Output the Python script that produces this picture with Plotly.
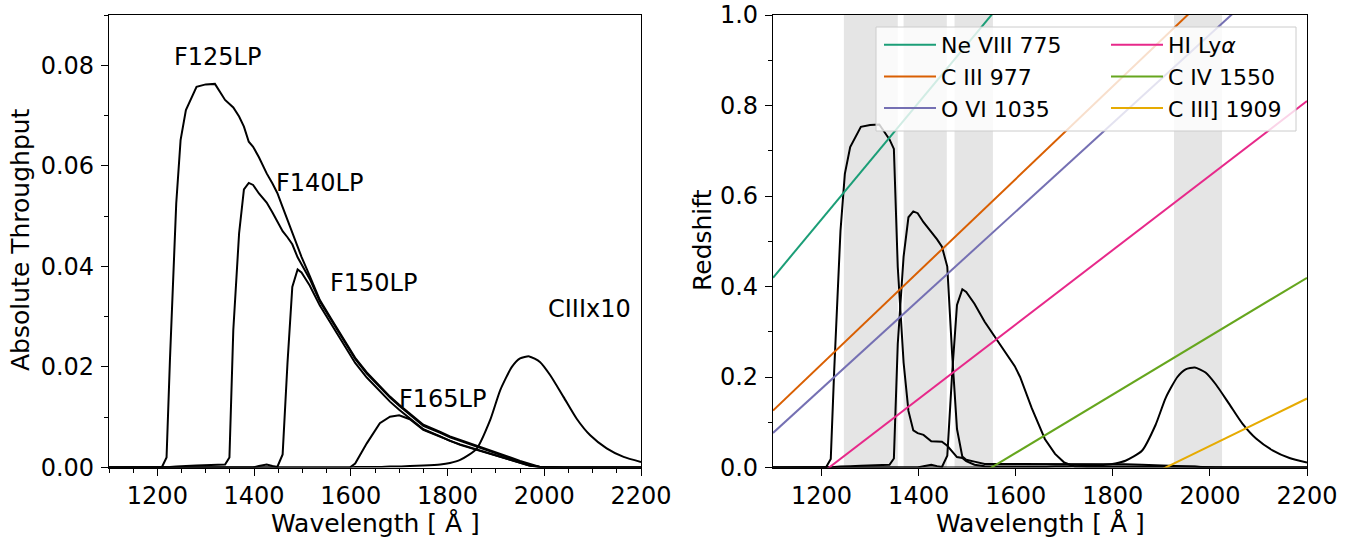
import numpy as np
import plotly.graph_objects as go

# ---------------- data ----------------
wave = [1100, 1200, 1209, 1219, 1226, 1239, 1248, 1259, 1281, 1300, 1319, 1340, 1349, 1357,
        1369, 1379, 1389, 1398, 1410, 1426, 1438, 1448, 1459, 1469, 1479, 1490, 1498, 1515,
        1536, 1560, 1598, 1609, 1633, 1660, 1681, 1700, 1722, 1750, 1785, 1805, 1826, 1860,
        1888, 1909, 1933, 1950, 1969, 1991, 2012, 2040, 2067, 2095, 2129, 2164, 2200]

f125lp = [0, 0, 0, 0.0020, 0.0214, 0.0525, 0.0651, 0.0711, 0.0757, 0.0762, 0.0763, 0.0731, 0.0724, 0.0716,
          0.0698, 0.0678, 0.0648, 0.0638, 0.0617, 0.0585, 0.0565, 0.0546, 0.0518, 0.0493, 0.0467, 0.0439, 0.0419, 0.0381,
          0.0333, 0.0295, 0.0234, 0.0218, 0.0189, 0.0161, 0.0141, 0.0125, 0.0108, 0.0085, 0.0071, 0.0062, 0.0055, 0.0044,
          0.0034, 0.0027, 0.0019, 0.0013, 0.0007, 0.0001, 0, 0, 0, 0, 0, 0, 0]

f140lp = [0, 0, 0, 0.0001, 0.0001, 0.0002, 0.0002, 0.0003, 0.0004, 0.0005, 0.0005, 0.0006, 0.0020, 0.0273,
          0.0466, 0.0553, 0.0566, 0.0562, 0.0545, 0.0527, 0.0507, 0.0489, 0.0470, 0.0458, 0.0444, 0.0418, 0.0405, 0.0375,
          0.0330, 0.0293, 0.0232, 0.0216, 0.0187, 0.0159, 0.0139, 0.0123, 0.0106, 0.0083, 0.0069, 0.0060, 0.0053, 0.0042,
          0.0032, 0.0025, 0.0017, 0.0011, 0.0005, 0.0001, 0, 0, 0, 0, 0, 0, 0]

f150lp = [0, 0, 0, 0, 0, 0, 0, 0, 0, 0, 0, 0, 0, 0,
          0, 0, 0, 0, 0.0003, 0.0006, 0.0003, 0.0001, 0.0026, 0.0207, 0.0359, 0.0394, 0.0388, 0.0362,
          0.0322, 0.0285, 0.0224, 0.0208, 0.0179, 0.0151, 0.0131, 0.0115, 0.0098, 0.0076, 0.0062, 0.0053, 0.0046, 0.0036,
          0.0027, 0.0021, 0.0014, 0.0009, 0.0004, 0.0001, 0, 0, 0, 0, 0, 0, 0]

f165lp = [0, 0, 0, 0, 0, 0, 0, 0, 0, 0, 0, 0, 0, 0,
          0, 0, 0, 0, 0, 0, 0, 0, 0, 0, 0, 0, 0, 0,
          0, 0, 0, 0.0008, 0.0048, 0.0088, 0.0101, 0.0104, 0.0096, 0.0075, 0.0061, 0.0052, 0.0045, 0.0035,
          0.0027, 0.0020, 0.0013, 0.0008, 0.0004, 0.0001, 0, 0, 0, 0, 0, 0, 0]

ciii_x10 = [0, 0, 0, 0, 0, 0, 0, 0, 0, 0, 0, 0, 0, 0,
            0, 0, 0, 0, 0, 0, 0, 0, 0, 0, 0, 0, 0, 0,
            0, 0, 0, 0.0001, 0.0001, 0.0001, 0.0002, 0.0002, 0.0003, 0.0004, 0.0006, 0.0009, 0.0015, 0.0037,
            0.0094, 0.0154, 0.0200, 0.0217, 0.0221, 0.0210, 0.0184, 0.0140, 0.0097, 0.0064, 0.0038, 0.0021, 0.0011]

filter_labels = ["F125LP", "F140LP", "F150LP", "F165LP", "CIIIx10"]

line_names = ["Ne VIII 775", "C III 977", "O VI 1035", "HI Ly<i>α</i>", "C IV 1550", "C III] 1909"]
rest_wave = [775, 977, 1022, 1215.67, 1550, 1909]
line_colors = ["#1b9e77", "#d95f02", "#7570b3", "#e7298a", "#66a61e", "#e6ab02"]

band_lo = [1246, 1369, 1474, 1926]
band_hi = [1357, 1458, 1553, 2025]

x_ticks = [1200, 1400, 1600, 1800, 2000, 2200]
y1_ticks = [0.00, 0.02, 0.04, 0.06, 0.08]
y2_ticks = [0.0, 0.2, 0.4, 0.6, 0.8, 1.0]

# ---------------- figure ----------------
W, H = 1363, 537
FONT = "DejaVu Sans"

def fx(p):
    return p / W

def fy(p):
    return 1 - p / H

fig = go.Figure()

wv = np.array(wave, dtype=float)
curves = [np.array(c) for c in (f125lp, f140lp, f150lp, f165lp, ciii_x10)]

# left panel: throughput curves
for name, c in zip(filter_labels, curves):
    fig.add_trace(go.Scatter(
        x=wv, y=c, mode="lines", name=name, showlegend=False,
        line=dict(color="black", width=2,
                  shape="spline" if name == "CIIIx10" else "linear", smoothing=0.6),
        xaxis="x", yaxis="y"))

# right panel: band differences (x10)
right_curves = [
    (curves[0] - curves[1]) * 10,
    (curves[1] - curves[2]) * 10,
    (curves[2] - curves[3]) * 10,
    curves[4] * 10,
]
for i, c in enumerate(right_curves):
    fig.add_trace(go.Scatter(
        x=wv, y=c, mode="lines", showlegend=False,
        line=dict(color="black", width=2,
                  shape="spline" if i == 3 else "linear", smoothing=0.6),
        xaxis="x2", yaxis="y2"))

# redshift lines
lam = np.array([wave[0], wave[-1]], dtype=float)
for i, (nm, rw, col) in enumerate(zip(line_names, rest_wave, line_colors)):
    fig.add_trace(go.Scatter(
        x=lam, y=lam / rw - 1, mode="lines", name=nm,
        line=dict(color=col, width=2),
        xaxis="x2", yaxis="y2",
        legend="legend" if i < 3 else "legend2"))

# shaded bands
for lo, hi in zip(band_lo, band_hi):
    fig.add_shape(type="rect", xref="x2", yref="y2 domain", x0=lo, x1=hi, y0=0, y1=1,
                  fillcolor="#e5e5e5", line=dict(width=0), layer="below")

# legend background box
fig.add_shape(type="rect", xref="paper", yref="paper",
              x0=fx(876), x1=fx(1296), y0=fy(131), y1=fy(27),
              fillcolor="rgba(255,255,255,0.8)", line=dict(color="#cccccc", width=1),
              layer="above")

# label annotations on left
label_pos = [(1231, 0.0816), (1441, 0.0566), (1552, 0.0367), (1695, 0.0136), (2004, 0.0315)]
for txt, (lx, ly) in zip(filter_labels, label_pos):
    fig.add_annotation(x=lx, y=ly, xref="x", yref="y", text=txt, showarrow=False,
                       xanchor="left", yanchor="middle",
                       font=dict(family=FONT, size=24, color="black"))

# axis titles
title_font = dict(family=FONT, size=25, color="black")
fig.add_annotation(x=fx((109 + 641) / 2), y=fy(523), xref="paper", yref="paper",
                   text="Wavelength [ Å ]", showarrow=False, xanchor="center", yanchor="middle",
                   font=title_font)
fig.add_annotation(x=fx((773 + 1307) / 2), y=fy(523), xref="paper", yref="paper",
                   text="Wavelength [ Å ]", showarrow=False, xanchor="center", yanchor="middle",
                   font=title_font)
fig.add_annotation(x=fx(21), y=fy(240), xref="paper", yref="paper",
                   text="Absolute Throughput", showarrow=False, textangle=-90,
                   xanchor="center", yanchor="middle", font=title_font)
fig.add_annotation(x=fx(703), y=fy(240), xref="paper", yref="paper",
                   text="Redshift", showarrow=False, textangle=-90,
                   xanchor="center", yanchor="middle", font=title_font)

ax_common = dict(showline=True, linecolor="black", linewidth=1.2, mirror=True,
                 ticks="outside", ticklen=7, tickwidth=1.2, tickcolor="black",
                 showgrid=False, zeroline=False, automargin=False,
                 tickfont=dict(family=FONT, size=24, color="black"))

ydom = [fy(467.5), fy(15)]
fig.update_layout(
    width=W, height=H, template="none",
    margin=dict(l=0, r=0, t=0, b=0),
    paper_bgcolor="white", plot_bgcolor="white",
    font=dict(family=FONT, color="black"),
    xaxis=dict(domain=[fx(109), fx(641)], range=[1100, 2200], tickvals=x_ticks,
               minor=dict(dtick=50, tick0=1100, ticklen=4, tickwidth=1, tickcolor="black",
                          ticks="outside", showgrid=False),
               anchor="y", **ax_common),
    yaxis=dict(domain=ydom, range=[0, 0.09], tickvals=y1_ticks, tickformat=".2f",
               ticklabelstandoff=2,
               minor=dict(dtick=0.01, tick0=0, ticklen=4, tickwidth=1, tickcolor="black",
                          ticks="outside", showgrid=False),
               anchor="x", **ax_common),
    xaxis2=dict(domain=[fx(773), fx(1307)], range=[1100, 2200], tickvals=x_ticks,
                anchor="y2", **ax_common),
    yaxis2=dict(domain=ydom, range=[0, 1.0], tickvals=y2_ticks, tickformat=".1f",
                ticklabelstandoff=2,
                minor=dict(dtick=0.1, tick0=0, ticklen=4, tickwidth=1, tickcolor="black",
                           ticks="outside", showgrid=False),
                anchor="x2", **ax_common),
    legend=dict(x=fx(879), y=fy(24), xanchor="left", yanchor="top", xref="paper", yref="paper",
                bgcolor="rgba(0,0,0,0)", borderwidth=0, itemwidth=52,
                font=dict(family=FONT, size=22, color="black")),
    legend2=dict(x=fx(1106), y=fy(24), xanchor="left", yanchor="top", xref="paper", yref="paper",
                 bgcolor="rgba(0,0,0,0)", borderwidth=0, itemwidth=52,
                 font=dict(family=FONT, size=22, color="black")),
)

fig.write_html("out.html", post_script="document.body.style.margin='0';",
               config={"displayModeBar": False})
